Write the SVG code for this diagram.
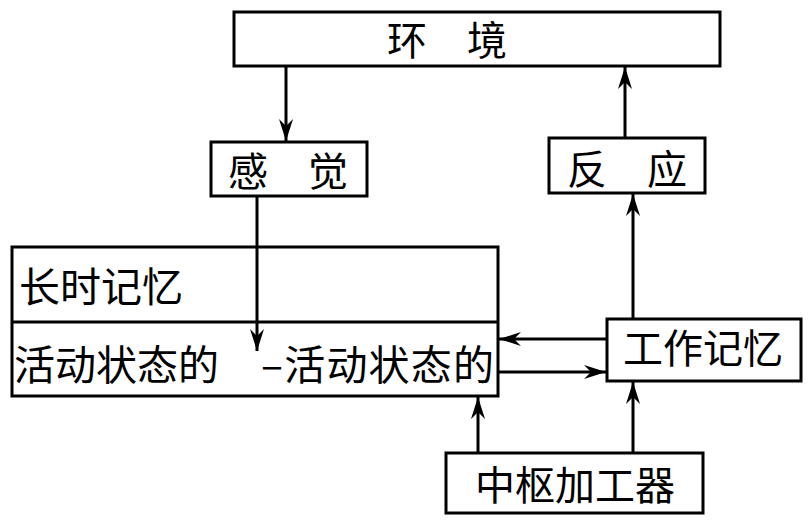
<svg xmlns="http://www.w3.org/2000/svg" width="810" height="527" viewBox="0 0 810 527">
<style>
.box{fill:#fff;stroke:#000;stroke-width:3}
.ln{fill:none;stroke:#000;stroke-width:3;marker-end:url(#ah)}
text{font-family:"Noto Sans CJK SC","Noto Sans CJK JP",sans-serif;font-size:40px;fill:#000}
.big{font-size:41px}
</style>
<defs>
<marker id="ah" viewBox="0 0 22 14" refX="22" refY="7" markerWidth="22" markerHeight="14" markerUnits="userSpaceOnUse" orient="auto">
<path d="M0,0 L22,7 L0,14 L7,7 Z" fill="#000"/>
</marker>
</defs>
<rect width="810" height="527" fill="#fff"/>
<g id="env"><rect class="box" x="234" y="12" width="486" height="54"/><text x="447" y="55" text-anchor="middle">环　境</text></g>
<g id="sense"><rect class="box" x="211" y="142" width="156" height="54"/><text x="288" y="186" text-anchor="middle">感　觉</text></g>
<g id="react"><rect class="box" x="549" y="138" width="156" height="55"/><text x="627" y="184" text-anchor="middle">反　应</text></g>
<g id="ltm"><rect class="box" x="12" y="247" width="486" height="149"/><line x1="12" y1="322" x2="498" y2="322" stroke="#000" stroke-width="3"/><text class="big" x="19" y="302">长时记忆</text><text class="big" x="14" y="380">活动状态的</text><text class="big" x="261" y="380" textLength="233" lengthAdjust="spacing">–活动状态的</text></g>
<g id="wm"><rect class="box" x="607" y="319" width="194" height="62"/><text x="703" y="363" text-anchor="middle">工作记忆</text></g>
<g id="cp"><rect class="box" x="446" y="453" width="257" height="60"/><text x="575" y="500" text-anchor="middle">中枢加工器</text></g>
<g id="connectors">
<line class="ln" x1="286" y1="66" x2="286" y2="141"/>
<line class="ln" x1="625" y1="138" x2="625" y2="67"/>
<line class="ln" x1="257" y1="196" x2="257" y2="351"/>
<line class="ln" x1="633" y1="319" x2="633" y2="194"/>
<line class="ln" x1="607" y1="339" x2="499" y2="339"/>
<line class="ln" x1="498" y1="372" x2="606" y2="372"/>
<line class="ln" x1="478" y1="453" x2="478" y2="397"/>
<line class="ln" x1="633" y1="453" x2="633" y2="382"/>
</g>
</svg>
